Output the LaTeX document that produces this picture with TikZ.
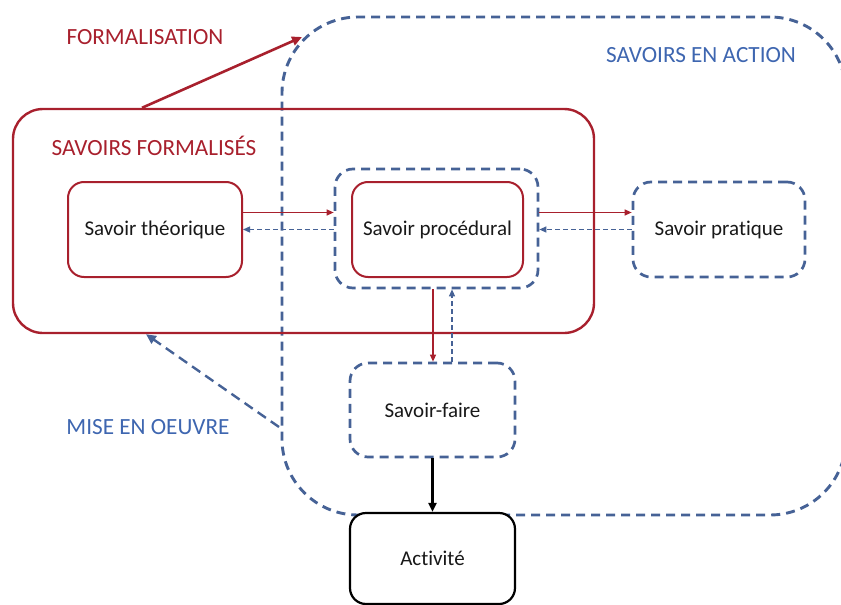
\documentclass[tikz,border=0pt]{standalone}
\usepackage{fontspec}
\setmainfont{Carlito}[Ligatures=NoCommon]
\usepackage{xcolor}
\usetikzlibrary{arrows.meta}

\definecolor{sfred}{RGB}{168,32,45}
\definecolor{sablue}{RGB}{70,98,150}
\definecolor{satext}{RGB}{62,102,176}

\begin{document}
\begin{tikzpicture}[x=0.5pt,y=-0.5pt,>={Triangle[length=3.5pt,width=3pt]},
  every node/.style={font=\fontsize{10.5}{12}\selectfont,text=black!90},
  lbl/.style={font=\fontsize{11.6}{14}\selectfont},
  formbox/.style={draw=sfred,line width=1pt,rounded corners=8pt,minimum height=47.5pt},
  actbox/.style={draw=sablue,line width=1.35pt,dash pattern=on 4.5pt off 3pt,rounded corners=9pt},
  redarr/.style={sfred,line width=0.6pt,->},
  bluearr/.style={sablue,line width=0.6pt,dash pattern=on 2.5pt off 1.5pt,->}]
\useasboundingbox (0,0) rectangle (841,605);
% les deux grands cadres
\node[draw=sablue,line width=1.45pt,dash pattern=on 4.5pt off 3pt,rounded corners=38pt,
  minimum width=282pt,minimum height=249pt] (action) at (564,266) {};
\node[draw=sfred,line width=1.2pt,rounded corners=15pt,
  minimum width=290.5pt,minimum height=112pt] (formel) at (303.5,221) {};
% savoirs
\node[formbox,minimum width=87pt] (theo) at (155,229.5) {Savoir théorique};
\node[actbox,minimum width=101.5pt,minimum height=59.5pt] (procact) at (436.5,228.5) {};
\node[formbox,minimum width=85.5pt] (proc) at (437.5,229.5) {Savoir procédural};
\node[actbox,minimum width=86pt,minimum height=47.5pt] (prat) at (719,229.5) {Savoir pratique};
\node[actbox,minimum width=82.5pt,minimum height=47pt] (faire) at (432.5,410) {Savoir-faire};
\node[draw,fill=white,line width=1.1pt,rounded corners=8pt,
  minimum width=82.5pt,minimum height=45.5pt] (act) at (432.5,558.5) {Activité};
% titres
\node[lbl,text=sfred] (lform) at (145,37) {FORMALISATION};
\node[lbl,text=sfred] (lsf) at (154,146) {SAVOIRS FORMALISÉS};
\node[lbl,text=satext] (lsa) at (701,55) {SAVOIRS EN ACTION};
\node[lbl,text=satext] (lmise) at (148,427) {MISE EN OEUVRE};
% fleches
\coordinate (formtip) at (302,37);
\coordinate (misefrom) at (279,427);
\draw[sfred,line width=1.3pt,-{Triangle[length=5pt,width=4.5pt]}] ([xshift=-80.75pt]formel.north) -- (formtip);
\draw[sablue,line width=1.2pt,dash pattern=on 5pt off 3pt,-{Triangle[length=5pt,width=4.5pt]}]
  (misefrom) -- ([xshift=-78.75pt]formel.south);
\draw[redarr] ([yshift=8.5pt]theo.east) -- ([yshift=8.5pt]theo.east -| procact.west);
\draw[bluearr] ([yshift=-0.5pt]procact.west) -- ([yshift=-0.5pt]procact.west -| theo.east);
\draw[redarr] ([yshift=8pt]procact.east) -- ([yshift=8pt]procact.east -| prat.west);
\draw[bluearr] (prat.west) -- (prat.west -| procact.east);
\draw[redarr] ([xshift=-1.75pt]procact.south) -- ([xshift=-1.75pt]procact.south |- faire.north);
\draw[bluearr] ([xshift=7.75pt]procact.south |- faire.north) -- ([xshift=7.75pt]procact.south);
\draw[line width=1.1pt,-{Triangle[length=4.5pt,width=4pt]}] (faire.south) -- (act.north);
\end{tikzpicture}
\end{document}
